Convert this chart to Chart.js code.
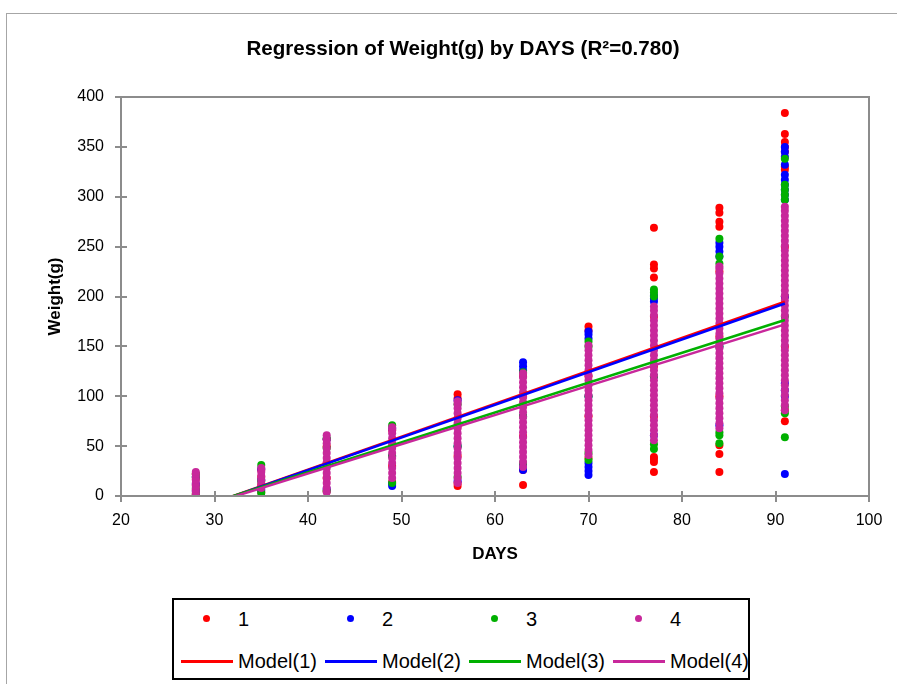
<!DOCTYPE html>
<html>
<head>
<meta charset="utf-8">
<script src="https://cdn.jsdelivr.net/npm/chart.js@4.4.1/dist/chart.umd.min.js"></script>
<style>
    html, body { margin: 0; padding: 0; background: #fff; }
    #wrap { position: relative; width: 897px; height: 684px; overflow: hidden; font-family: "Liberation Sans", Arial, sans-serif; }
    #frame { position: absolute; left: 6px; top: 13px; width: 1000px; height: 800px; border-left: 1px solid #a6a6a6; border-top: 1px solid #a6a6a6; }
    #chart { position: absolute; left: 0; top: 0; }
    #legend { position: absolute; left: 172px; top: 598px; width: 574px; height: 78px; border: 2px solid #000; background: #fff; overflow: hidden; }
    #legend span { position: absolute; display: block; }
    #legend .txt { font-size: 20px; line-height: 24px; color: #000; white-space: nowrap; }
</style>
</head>
<body>
<div id="wrap">
    <div id="frame"></div>
    <canvas id="chart" width="897" height="684"></canvas>
    <div id="legend"></div>
</div>
<script>
const days = [28, 35, 42, 49, 56, 63, 70, 77, 84, 91];

// weights per day, one list for each day above
const weight1 = [
    [0, 2, 6, 11, 17, 22],
    [4, 11, 19, 26],
    [5, 18, 33, 50, 57],
    [14, 30, 50, 66],
    [10, 13, 40, 70, 98, 102],
    [11, 26, 60, 100, 120],
    [38, 80, 120, 166, 170],
    [24, 34, 37, 39, 80, 130, 180, 219, 228, 232, 269],
    [24, 42, 51, 100, 160, 225, 270, 275, 284, 289],
    [75, 86, 150, 200, 250, 327, 330, 345, 350, 355, 363, 384]
];
const weight2 = [
    [5, 12, 19],
    [6, 16, 27],
    [7, 30, 57],
    [10, 12, 40, 68],
    [15, 50, 96],
    [26, 28, 31, 80, 126, 130, 134],
    [21, 25, 29, 33, 100, 158, 162, 165],
    [61, 120, 195, 198, 201],
    [71, 150, 240, 245, 250, 254],
    [22, 100, 106, 113, 200, 297, 302, 307, 312, 317, 322, 332, 340, 345, 350]
];
const weight3 = [
    [2, 8, 19, 22],
    [3, 15, 31],
    [5, 48, 58],
    [13, 40, 71],
    [19, 50, 92],
    [33, 80, 124],
    [36, 43, 100, 150, 155],
    [47, 52, 120, 200, 204, 207],
    [53, 61, 64, 150, 233, 240, 258],
    [59, 83, 90, 180, 297, 302, 307, 312, 338]
];
const weight4 = [
    [1, 4, 7, 10, 13, 16, 19, 22, 24],
    [8, 12, 16, 20, 24, 28],
    [4, 8, 13, 18, 23, 28, 33, 38, 43, 48, 53, 57, 61],
    [18, 23, 28, 33, 38, 43, 48, 53, 58, 63, 67, 69],
    [13, 18, 23, 28, 33, 38, 43, 48, 53, 58, 63, 68, 73, 78, 83, 88, 92, 95],
    [29, 34, 39, 44, 49, 54, 59, 64, 69, 74, 79, 84, 89, 94, 99, 104, 109, 114, 119, 123],
    [41, 46, 51, 56, 61, 66, 71, 76, 81, 86, 91, 96, 101, 106, 111, 116, 121, 126, 131, 136, 141, 146, 151],
    [56, 61, 66, 71, 76, 81, 86, 91, 96, 101, 106, 111, 116, 121, 126, 131, 136, 141, 146, 151, 156, 161, 166, 171, 176, 181, 186, 190],
    [68, 73, 78, 83, 88, 93, 98, 103, 108, 113, 118, 123, 128, 133, 138, 143, 148, 153, 158, 163, 168, 173, 178, 183, 188, 193, 198, 203, 208, 213, 218, 223, 228, 230],
    [86, 91, 96, 101, 106, 111, 116, 121, 126, 131, 136, 141, 146, 151, 156, 161, 166, 171, 176, 181, 186, 191, 196, 201, 206, 211, 216, 221, 226, 231, 236, 241, 246, 251, 256, 261, 266, 271, 276, 281, 286, 290]
];

// regression lines, read at both ends of the day range
const modelDays = [28, 91];
const modelStart = [-13.2, -13.4, -12.0, -12.6];
const modelEnd = [194.7, 193.0, 176.4, 172.0];

const groupNames = ['1', '2', '3', '4'];
const modelNames = ['Model(1)', 'Model(2)', 'Model(3)', 'Model(4)'];
const colors = ['#FF0000', '#0000FF', '#00B000', '#C8289B'];

const xTicks = [20, 30, 40, 50, 60, 70, 80, 90, 100];
const yTicks = [0, 50, 100, 150, 200, 250, 300, 350, 400];

const weights = [weight1, weight2, weight3, weight4];
const axisColor = '#8c8c8c';
const fontFamily = '"Liberation Sans", Arial, sans-serif';

const pointSets = weights.map((w, g) => ({
    label: groupNames[g],
    data: days.flatMap((d, i) => w[i].map(v => ({ x: d, y: v }))),
    backgroundColor: colors[g],
    borderWidth: 0,
    pointRadius: 4,
    pointHoverRadius: 4,
    showLine: false,
    order: 8 - g
}));

const lineSets = modelNames.map((name, g) => ({
    label: name,
    data: [{ x: modelDays[0], y: modelStart[g] }, { x: modelDays[1], y: modelEnd[g] }],
    borderColor: colors[g],
    borderWidth: 2.5,
    pointRadius: 0,
    showLine: true,
    order: 4 - g
}));

// plot frame, ticks that cross the axes, and the title
const frameAndTitle = {
    id: 'frameAndTitle',
    afterDraw(c) {
        const { ctx, chartArea: a, scales } = c;
        ctx.save();
        ctx.strokeStyle = axisColor;
        ctx.lineWidth = 2;
        ctx.strokeRect(a.left, a.top, a.right - a.left, a.bottom - a.top);
        ctx.beginPath();
        xTicks.forEach(t => {
            const x = Math.round(scales.x.getPixelForValue(t));
            ctx.moveTo(x, a.bottom);
            ctx.lineTo(x, a.bottom - 5);
        });
        yTicks.forEach(t => {
            const y = Math.round(scales.y.getPixelForValue(t));
            ctx.moveTo(a.left, y);
            ctx.lineTo(a.left + 6, y);
        });
        ctx.stroke();

        ctx.fillStyle = '#000';
        ctx.font = 'bold 20.6px ' + fontFamily;
        ctx.textAlign = 'center';
        ctx.textBaseline = 'middle';
        ctx.fillText('Regression of Weight(g) by DAYS (R\u00B2=0.780)', 463, 49);
        ctx.restore();
    }
};

Chart.defaults.font.family = fontFamily;
Chart.defaults.color = '#000';

new Chart(document.getElementById('chart'), {
    type: 'scatter',
    data: { datasets: [...pointSets, ...lineSets] },
    options: {
        responsive: false,
        animation: false,
        layout: { padding: { left: 0, top: 97, right: 28, bottom: 118 } },
        plugins: {
            legend: { display: false },
            tooltip: { enabled: false },
            title: { display: false }
        },
        scales: {
            x: {
                type: 'linear',
                min: 20,
                max: 100,
                afterBuildTicks: (s) => { s.ticks = xTicks.map(v => ({ value: v })); },
                afterFit: (s) => { s.height = 70; },
                ticks: { font: { size: 16 }, padding: 9 },
                grid: { drawOnChartArea: false, drawTicks: true, tickLength: 6, color: axisColor, lineWidth: 2 },
                border: { display: true, color: axisColor, width: 2 },
                title: { display: true, text: 'DAYS', font: { size: 17, weight: 'bold' }, padding: { top: 0, bottom: 1 } }
            },
            y: {
                type: 'linear',
                min: 0,
                max: 400,
                afterBuildTicks: (s) => { s.ticks = yTicks.map(v => ({ value: v })); },
                afterFit: (s) => { s.width = 121; },
                ticks: { font: { size: 16 }, padding: 11 },
                grid: { drawOnChartArea: false, drawTicks: true, tickLength: 6, color: axisColor, lineWidth: 2 },
                border: { display: true, color: axisColor, width: 2 },
                title: { display: true, text: 'Weight(g)', font: { size: 17, weight: 'bold' }, padding: { top: 45, bottom: 0 } }
            }
        }
    },
    plugins: [frameAndTitle]
});

// legend box: dots on the first row, model lines on the second
const legend = document.getElementById('legend');
groupNames.forEach((name, i) => {
    const left = 7 + 144 * i;
    const dot = document.createElement('span');
    Object.assign(dot.style, { left: (left + 22) + 'px', top: '15px', width: '7px', height: '7px', borderRadius: '50%', background: colors[i] });
    const t1 = document.createElement('span');
    t1.className = 'txt';
    Object.assign(t1.style, { left: (left + 57) + 'px', top: '7px' });
    t1.textContent = name;
    const line = document.createElement('span');
    Object.assign(line.style, { left: left + 'px', top: '60px', width: '52px', height: '3px', background: colors[i] });
    const t2 = document.createElement('span');
    t2.className = 'txt';
    Object.assign(t2.style, { left: (left + 57) + 'px', top: '49px' });
    t2.textContent = modelNames[i];
    legend.append(dot, t1, line, t2);
});
</script>
</body>
</html>
